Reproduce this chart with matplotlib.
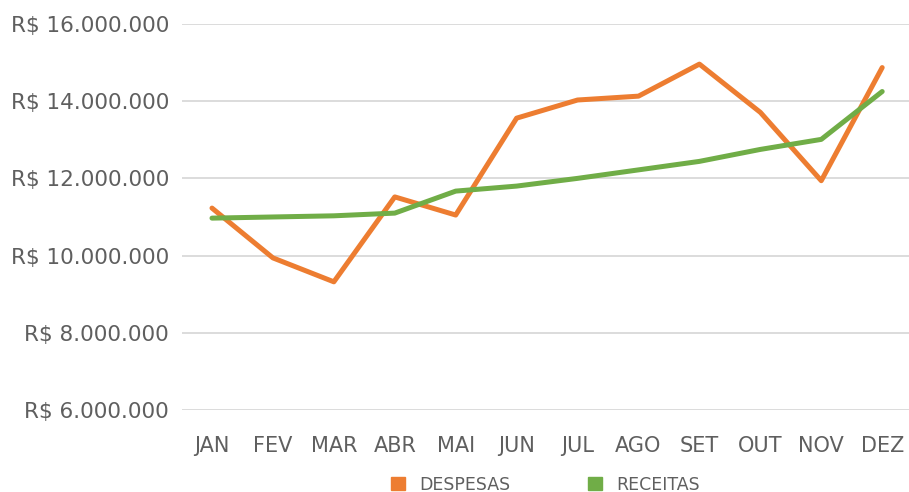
import matplotlib.pyplot as plt
from matplotlib.patches import Patch

MONTHS   = ['JAN', 'FEV', 'MAR', 'ABR', 'MAI', 'JUN', 'JUL', 'AGO', 'SET', 'OUT', 'NOV', 'DEZ']
DESPESAS = [11.23, 9.94, 9.32, 11.52, 11.05, 13.56, 14.03, 14.13, 14.96, 13.71, 11.94, 14.87]
RECEITAS = [10.97, 11.00, 11.03, 11.10, 11.67, 11.80, 12.00, 12.22, 12.44, 12.75, 13.01, 14.25]
Y_TICKS  = [6, 8, 10, 12, 14, 16]

ORANGE = '#ED7D31'
GREEN  = '#70AD47'
TEXT   = '#5f5f5f'

plt.rcParams['font.family'] = ['DejaVu Sans']

fig = plt.figure(figsize=(9.09, 4.92), dpi=100)
ax = fig.add_axes([0.1997, 0.1667, 0.8003, 0.7846])

x = list(range(len(MONTHS)))
ax.plot(x, DESPESAS, color=ORANGE, lw=3.6, solid_capstyle='round', clip_on=False, zorder=3)
ax.plot(x, RECEITAS, color=GREEN, lw=3.6, solid_capstyle='round', clip_on=False, zorder=3)

ax.set_xlim(-0.5, 11.44)
ax.set_ylim(6, 16)
ax.set_yticks(Y_TICKS)
ax.set_yticklabels([f'R$ {v}.000.000' for v in Y_TICKS])
ax.set_xticks(x)
ax.set_xticklabels(MONTHS)
ax.tick_params(axis='both', length=0, labelsize=15, labelcolor=TEXT)
ax.tick_params(axis='y', labelsize=15.5, pad=9)
ax.tick_params(axis='x', pad=19)
ax.grid(axis='y', color='#d9d9d9', lw=1.3)
ax.set_axisbelow(True)
for s in ax.spines.values():
    s.set_visible(False)

handles = [Patch(color=ORANGE, label='DESPESAS'), Patch(color=GREEN, label='RECEITAS')]
fig.legend(handles=handles, loc='lower center', bbox_to_anchor=(0.6, -0.035), ncol=2,
           frameon=False, fontsize=12.5, labelcolor=TEXT, handlelength=0.8, handleheight=0.8,
           columnspacing=4.5, handletextpad=0.8)

plt.savefig('out.png', dpi=100)
